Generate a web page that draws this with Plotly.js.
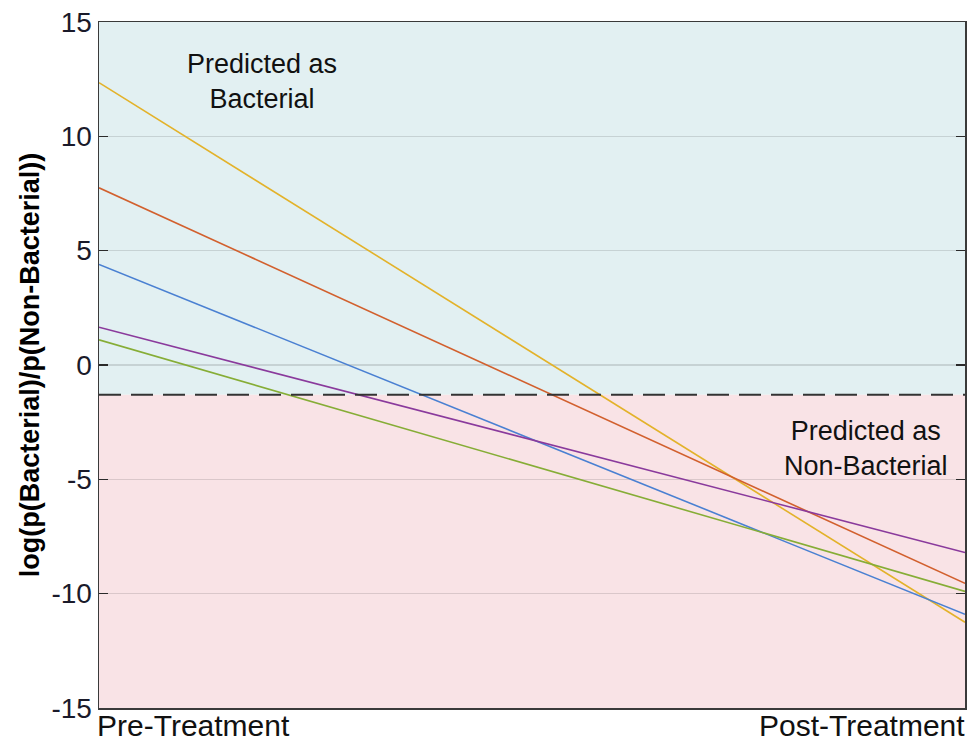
<!DOCTYPE html>
<html>
<head>
<meta charset="utf-8">
<script src="https://cdn.plot.ly/plotly-3.0.1.min.js"></script>
<style>html,body{margin:0;padding:0;background:#fff}#chart{width:967px;height:747px}</style>
</head>
<body>
<div id="chart"></div>
<script>
// Data
const xPositions = [0, 1];
const xLabels = ["Pre-Treatment", "Post-Treatment"];
const yTicks = [-15, -10, -5, 0, 5, 10, 15];
const threshold = -1.3;
const seriesYellow = [12.35, -11.25];
const seriesOrange = [7.75, -9.55];
const seriesBlue = [4.4, -10.9];
const seriesPurple = [1.65, -8.2];
const seriesGreen = [1.1, -9.9];
const regionLabels = ["Predicted as<br>Bacterial", "Predicted as<br>Non-Bacterial"];

const series = [
  {y: seriesYellow, color: '#e3b22a'},
  {y: seriesOrange, color: '#d2602e'},
  {y: seriesBlue, color: '#4a80d2'},
  {y: seriesPurple, color: '#8a3a9c'},
  {y: seriesGreen, color: '#86ad36'}
];

const traces = series.map(s => ({
  x: xPositions, y: s.y, type: 'scatter', mode: 'lines',
  line: {color: s.color, width: 1.6}, hoverinfo: 'skip', showlegend: false
}));

const font = '"Liberation Sans", Arial, sans-serif';

const layout = {
  width: 967, height: 747,
  margin: {l: 99, r: 2, t: 22, b: 39},
  paper_bgcolor: '#ffffff',
  plot_bgcolor: '#ffffff',
  showlegend: false,
  font: {family: font},
  xaxis: {
    range: [0, 1], showticklabels: false, ticks: '', showgrid: false,
    zeroline: false, showline: true, mirror: true, linecolor: '#3a3a3a', linewidth: 1.5
  },
  yaxis: {
    range: [-15, 15], tickvals: yTicks, ticktext: yTicks.map(String),
    ticks: 'inside', ticklen: 9, tickwidth: 1.5, tickcolor: '#2a2a2a',
    showgrid: true, gridcolor: 'rgba(0,0,0,0.12)', gridwidth: 1.2,
    zeroline: false, showline: true, mirror: 'ticks', linecolor: '#3a3a3a', linewidth: 1.5,
    tickfont: {family: font, size: 28, color: '#1a1a2a'},
    title: {text: 'log(p(Bacterial)/p(Non-Bacterial))', font: {family: font, size: 27, color: '#000', weight: 'bold'}, standoff: 4}
  },
  shapes: [
    {type: 'rect', xref: 'paper', yref: 'y', x0: 0, x1: 1, y0: threshold, y1: 15,
     fillcolor: '#e2f0f2', line: {width: 0}, layer: 'below'},
    {type: 'rect', xref: 'paper', yref: 'y', x0: 0, x1: 1, y0: -15, y1: threshold,
     fillcolor: '#f9e3e6', line: {width: 0}, layer: 'below'},
    {type: 'line', xref: 'paper', yref: 'y', x0: 0, x1: 1, y0: threshold, y1: threshold,
     line: {color: '#333333', width: 2.2, dash: '22px,10px'}, layer: 'above'}
  ],
  annotations: [
    {xref: 'paper', yref: 'paper', x: 0, y: 0, yshift: 1, xshift: -4, xanchor: 'left', yanchor: 'top',
     text: xLabels[0], showarrow: false, font: {family: font, size: 30, color: '#111'}},
    {xref: 'paper', yref: 'paper', x: 1, y: 0, yshift: 1, xshift: 2, xanchor: 'right', yanchor: 'top',
     text: xLabels[1], showarrow: false, font: {family: font, size: 30, color: '#111'}},
    {xref: 'paper', yref: 'paper', x: (262 - 99) / 866, y: 1 - (81 - 22) / 686, xanchor: 'center', yanchor: 'middle',
     text: regionLabels[0], showarrow: false, font: {family: font, size: 27, color: '#111'}},
    {xref: 'paper', yref: 'paper', x: (866 - 99) / 866, y: 1 - (448 - 22) / 686, xanchor: 'center', yanchor: 'middle',
     text: regionLabels[1], showarrow: false, font: {family: font, size: 27, color: '#111'}}
  ]
};

Plotly.newPlot('chart', traces, layout, {displayModeBar: false, staticPlot: true});
</script>
</body>
</html>
